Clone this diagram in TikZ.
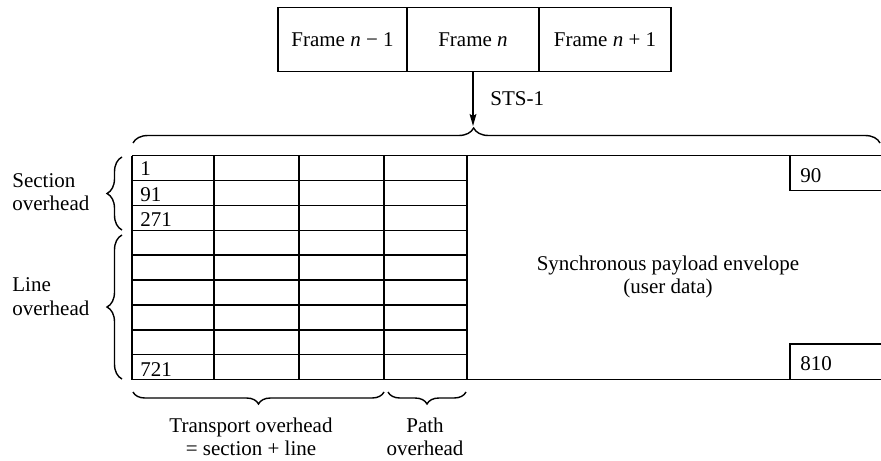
\documentclass[tikz,border=0pt]{standalone}
\usepackage{fontspec}
\setmainfont{Liberation Serif}
\usetikzlibrary{decorations.pathreplacing,arrows.meta}
\newcommand\figfs{\fontsize{10.5}{11.7}\selectfont}
\begin{document}
\begin{tikzpicture}[x=0.5pt,y=-0.5pt,
  ln/.style={line width=0.7pt},
  framebox/.style={draw,line width=0.7pt,minimum height=32.2pt,inner sep=0pt,outer sep=0pt,font=\figfs},
  lbl/.style={inner sep=0pt,font=\figfs},
  bracedec/.style={decorate,line width=0.7pt,decoration={brace,amplitude=#1}},
]
\useasboundingbox (0,0) rectangle (881,460);
% frames
\node[framebox,minimum width=64.5pt] (f1) at (342.5,39.5) {Frame \textit{n} − 1};
\node[framebox,minimum width=66pt] (f2) at (473,39.5) {Frame \textit{n}};
\node[framebox,minimum width=66pt] (f3) at (605,39.5) {Frame \textit{n} + 1};
\coordinate (tip) at (473,126);
\draw[ln,-{Stealth[length=6pt,width=3.4pt,inset=1pt]}] (f2.south) -- (tip);
\node[lbl,anchor=west] (sts) at (490,99) {STS-1};
% top brace
\draw[ln,decorate,decoration={brace,amplitude=7.5pt,aspect=0.456}] (133,143) -- (880,143);
% grid
\draw[ln] (132,155.5) -- (881,155.5);
\draw[ln] (132,379.6) -- (881,379.6);
\draw[ln] (132,155.5) -- (132,379.6);
\foreach \x in {214,299,384,467} \draw[ln] (\x,155.5) -- (\x,379.6);
\foreach \k in {1,...,8} \draw[ln] (132,{155.5+\k*24.9}) -- (467,{155.5+\k*24.9});
\draw[ln] (790,155.5) -- (790,190.7) -- (881,190.7);
\draw[ln] (790,379.6) -- (790,344) -- (881,344);
% cell labels
\node[lbl,anchor=base west] (c1) at (140,175.5) {1};
\node[lbl,anchor=base west] (c91) at (140,201) {91};
\node[lbl,anchor=base west] (c271) at (140,226) {271};
\node[lbl,anchor=base west] (c721) at (140,376.5) {721};
\node[lbl,anchor=base west] (c90) at (800,182) {90};
\node[lbl,anchor=base west] (c810) at (800,370) {810};
\node[lbl,align=center] (spe) at (668,277) {Synchronous payload envelope\\(user data)};
% left braces
\draw[bracedec=7.5pt] (122,230) -- (122,157);
\draw[bracedec=7.5pt] (122,379) -- (122,235);
\node[lbl,align=left,anchor=west] (sec) at (12,192) {Section\\overhead};
\node[lbl,align=left,anchor=west] (lin) at (12,296.5) {Line\\overhead};
% bottom braces
\draw[bracedec=6pt] (384,392) -- (133,392);
\draw[bracedec=6pt] (466,392) -- (388,392);
\node[lbl,align=center] (tro) at (251,437) {Transport overhead\\= section + line};
\node[lbl,align=center] (pth) at (425,437) {Path\\overhead};
\end{tikzpicture}
\end{document}
